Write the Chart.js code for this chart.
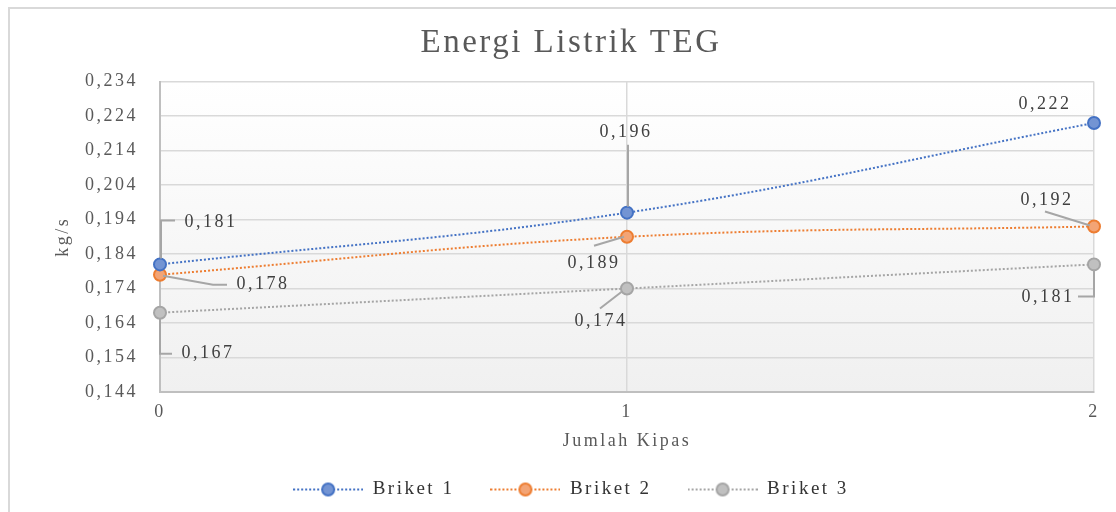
<!DOCTYPE html>
<html>
<head>
<meta charset="utf-8">
<title>Energi Listrik TEG</title>
<script src="https://cdn.jsdelivr.net/npm/chart.js@4.4.1/dist/chart.umd.min.js"></script>
<style>
    html, body { margin: 0; padding: 0; background: #fff; }
    .wrap { position: relative; width: 1116px; height: 512px; overflow: hidden; }
    .frame { position: absolute; left: 8px; top: 7px; width: 1200px; height: 600px; border-left: 2px solid #d9d9d9; border-top: 2px solid #d9d9d9; }
    canvas { position: absolute; left: 0; top: 0; }
</style>
</head>
<body>
<div class="wrap">
    <div class="frame"></div>
    <canvas id="myChart" width="1116" height="512"></canvas>
</div>
<script>
// data
const categories = ["0", "1", "2"];
const briket1 = [0.181, 0.196, 0.222];
const briket2 = [0.178, 0.189, 0.192];
const briket3 = [0.167, 0.174, 0.181];
const seriesNames = ["Briket 1", "Briket 2", "Briket 3"];
const yMin = 0.144;
const yMax = 0.234;
const yStep = 0.01;

const serif = "'Liberation Serif', 'Times New Roman', serif";
const colors = ["#4472C4", "#ED7D31", "#A5A5A5"];
const fills = ["#7394d3", "#f3a475", "#c0c0c0"];

// where each data label sits relative to its point, plus its leader line
const labelPlacement = [
    [
        { text: [51, -42], leader: [[1, -6], [1, -44], [15, -44]] },
        { text: [-1, -80], leader: [[1, -6], [1, -68]] },
        { text: [-49, -19], leader: [] },
    ],
    [
        { text: [103, 10], leader: [[3, 1], [53, 10], [67, 10]] },
        { text: [-33, 26], leader: [[-3, 0], [-33, 9]] },
        { text: [-47, -26], leader: [[-4, -1], [-49, -15]] },
    ],
    [
        { text: [48, 41], leader: [[0, 6], [0, 41], [12, 41]] },
        { text: [-26, 33], leader: [[-5, 3], [-27, 20]] },
        { text: [-46, 33], leader: [[0, 5], [0, 32], [-16, 32]] },
    ],
];

function fmt(v) {
    return Number(v).toFixed(3).replace(".", ",");
}

// legend marker: dotted line with a circle in the middle
function legendMarker(i) {
    const c = document.createElement("canvas");
    c.width = 70;
    c.height = 16;
    const g = c.getContext("2d");
    g.strokeStyle = colors[i];
    g.lineWidth = 2;
    g.setLineDash([2, 2]);
    g.beginPath();
    g.moveTo(0, 8);
    g.lineTo(70, 8);
    g.stroke();
    g.setLineDash([]);
    g.beginPath();
    g.arc(35, 8, 6, 0, Math.PI * 2);
    g.fillStyle = fills[i];
    g.fill();
    g.stroke();
    return c;
}
const markers = [0, 1, 2].map(legendMarker);

const spacing = {
    id: "spacing",
    beforeLayout(chart) { chart.ctx.letterSpacing = "2.5px"; },
    beforeDraw(chart) {
        const ctx = chart.ctx;
        ctx.letterSpacing = "2.5px";
        const a = chart.chartArea;
        const grad = ctx.createLinearGradient(0, a.top, 0, a.bottom);
        grad.addColorStop(0, "#ffffff");
        grad.addColorStop(1, "#f0f0f0");
        ctx.save();
        ctx.fillStyle = grad;
        ctx.fillRect(a.left, a.top, a.right - a.left, a.bottom - a.top);
        ctx.restore();
    },
};

const dataLabels = {
    id: "dataLabels",
    afterDatasetsDraw(chart) {
        const ctx = chart.ctx;
        chart.data.datasets.forEach((ds, i) => {
            const meta = chart.getDatasetMeta(i);
            meta.data.forEach((pt, j) => {
                const p = labelPlacement[i][j];
                ctx.save();
                if (p.leader.length) {
                    ctx.strokeStyle = "#a6a6a6";
                    ctx.lineWidth = 2;
                    ctx.beginPath();
                    p.leader.forEach((o, k) => {
                        if (k === 0) ctx.moveTo(pt.x + o[0], pt.y + o[1]);
                        else ctx.lineTo(pt.x + o[0], pt.y + o[1]);
                    });
                    ctx.stroke();
                }
                ctx.font = "18px " + serif;
                ctx.fillStyle = "#404040";
                ctx.textAlign = "center";
                ctx.textBaseline = "middle";
                ctx.fillText(fmt(ds.data[j]), pt.x + p.text[0], pt.y + p.text[1]);
                ctx.restore();
            });
        });
    },
};

function series(i, values) {
    return {
        label: seriesNames[i],
        data: values,
        borderColor: colors[i],
        backgroundColor: fills[i],
        borderWidth: 2,
        borderDash: [2, 2],
        tension: 0.4,
        pointRadius: 6,
        pointBorderWidth: 2,
        pointBackgroundColor: fills[i],
        pointBorderColor: colors[i],
    };
}

new Chart(document.getElementById("myChart"), {
    type: "line",
    data: {
        labels: categories,
        datasets: [series(0, briket1), series(1, briket2), series(2, briket3)],
    },
    plugins: [spacing, dataLabels],
    options: {
        responsive: false,
        animation: false,
        layout: { padding: { left: 48, right: 22, top: 0, bottom: 3 } },
        plugins: {
            title: {
                display: true,
                text: "Energi Listrik TEG",
                color: "#595959",
                font: { family: serif, size: 33, weight: "normal" },
                padding: { top: 24, bottom: 18 },
            },
            legend: {
                position: "bottom",
                labels: {
                    color: "#333333",
                    font: { family: serif, size: 19 },
                    usePointStyle: true,
                    pointStyleWidth: 70,
                    padding: 36,
                    generateLabels(chart) {
                        const items = Chart.defaults.plugins.legend.labels.generateLabels(chart);
                        items.forEach((it, i) => { it.pointStyle = markers[i]; });
                        return items;
                    },
                },
            },
            tooltip: { enabled: false },
        },
        scales: {
            x: {
                grid: { color: "#d9d9d9", lineWidth: 1.5, drawTicks: false },
                border: { color: "#bfbfbf", width: 2 },
                ticks: { color: "#595959", font: { family: serif, size: 18 }, padding: 9 },
                title: {
                    display: true,
                    text: "Jumlah Kipas",
                    color: "#595959",
                    font: { family: serif, size: 18 },
                    padding: { top: 4, bottom: -8 },
                },
                afterFit(scale) { scale.height = 52; },
            },
            y: {
                min: yMin,
                max: yMax,
                grid: { color: "#d9d9d9", lineWidth: 1.5, drawTicks: false },
                border: { color: "#bfbfbf", width: 2 },
                ticks: {
                    stepSize: yStep,
                    color: "#595959",
                    font: { family: serif, size: 18 },
                    padding: 22,
                    callback: (v) => fmt(v),
                },
                title: {
                    display: true,
                    text: "kg/s",
                    color: "#595959",
                    font: { family: serif, size: 18 },
                    padding: 4,
                },
                afterFit(scale) { scale.width = 112; },
            },
        },
    },
});
</script>
</body>
</html>
